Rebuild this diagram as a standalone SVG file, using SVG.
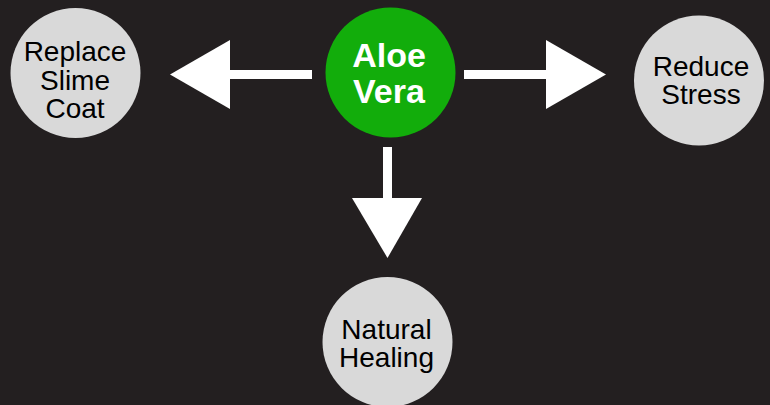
<svg xmlns="http://www.w3.org/2000/svg" width="770" height="405" viewBox="0 0 770 405">
<style>
.bg{fill:#231f20}
.node{fill:#d9d9d9}
.main{fill:#12ad0b}
.lbl{font-family:"Liberation Sans",Arial,sans-serif;font-size:28px;fill:#000;text-anchor:middle}
.mlbl{font-family:"Liberation Sans",Arial,sans-serif;font-size:34px;font-weight:bold;fill:#fff;text-anchor:middle}
.conn{fill:#fff}
</style>
<rect class="bg" x="0" y="0" width="770" height="405"/>
<g id="connectors">
<g id="arrow-left">
<rect class="conn" x="229" y="70" width="83" height="9"/>
<polygon class="conn" points="230,40 230,109 170,74.5"/>
</g>
<g id="arrow-right">
<rect class="conn" x="464" y="70" width="83" height="9"/>
<polygon class="conn" points="546,40 546,109 606,74.5"/>
</g>
<g id="arrow-down">
<rect class="conn" x="383" y="147" width="9" height="52"/>
<polygon class="conn" points="352,198 422,198 387.5,258"/>
</g>
</g>
<g id="node-aloe">
<circle class="main" cx="390.5" cy="72.5" r="65"/>
<text class="mlbl" x="389" y="66.5">Aloe</text>
<text class="mlbl" x="389" y="102.5">Vera</text>
</g>
<g id="node-slime">
<circle class="node" cx="75.5" cy="73" r="65"/>
<text class="lbl" x="75" y="61">Replace</text>
<text class="lbl" x="75" y="89.5">Slime</text>
<text class="lbl" x="75" y="118">Coat</text>
</g>
<g id="node-stress">
<circle class="node" cx="699" cy="80.5" r="65"/>
<text class="lbl" x="701" y="75.5">Reduce</text>
<text class="lbl" x="701" y="104">Stress</text>
</g>
<g id="node-healing">
<circle class="node" cx="387.5" cy="342" r="65"/>
<text class="lbl" x="386.5" y="339">Natural</text>
<text class="lbl" x="386.5" y="366.5">Healing</text>
</g>
</svg>
